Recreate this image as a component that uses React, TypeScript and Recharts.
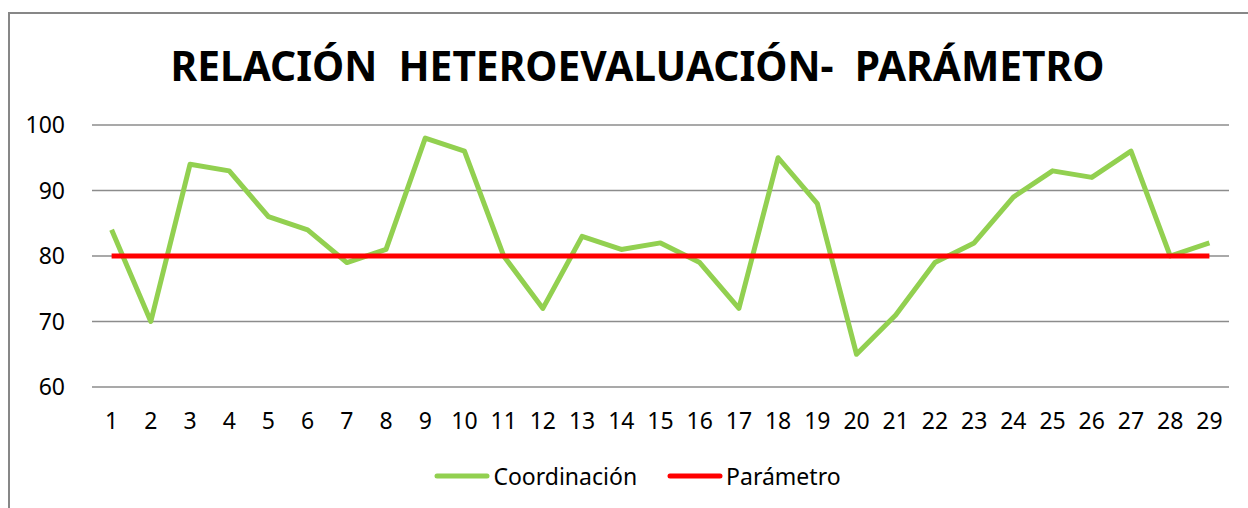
import { CartesianGrid, Legend, Line, LineChart, XAxis, YAxis } from 'recharts'

// eje X: evaluaciones 1..29
const categorias = [
  '1', '2', '3', '4', '5', '6', '7', '8', '9', '10', '11', '12', '13', '14', '15',
  '16', '17', '18', '19', '20', '21', '22', '23', '24', '25', '26', '27', '28', '29',
]
const coordinacion = [
  84, 70, 94, 93, 86, 84, 79, 81, 98, 96, 80, 72, 83, 81, 82,
  79, 72, 95, 88, 65, 71, 79, 82, 89, 93, 92, 96, 80, 82,
]
const parametro = categorias.map(() => 80)
const yTicks = [60, 70, 80, 90, 100]

const data = categorias.map((c, i) => ({ cat: c, coordinacion: coordinacion[i], parametro: parametro[i] }))

const FONT = '"Noto Sans", sans-serif'

function LegendRow({ payload }: any) {
  return (
    <div style={{ display: 'flex', justifyContent: 'center', gap: 30, fontFamily: FONT, fontSize: 23, lineHeight: '30px', color: '#000' }}>
      {payload?.map((p: any) => (
        <div key={p.value} style={{ display: 'flex', alignItems: 'center' }}>
          <svg width={56} height={10} style={{ marginRight: 3 }}>
            <line x1={3} y1={5} x2={53} y2={5} stroke={p.color} strokeWidth={5} strokeLinecap="round" />
          </svg>
          <span>{p.value}</span>
        </div>
      ))}
    </div>
  )
}

export default function App() {
  return (
    <div style={{ position: 'fixed', left: 0, top: 0, width: 1248, height: 508, background: '#fff', overflow: 'hidden' }}>
      <div style={{ position: 'absolute', left: 8, top: 12, width: 1400, height: 600, borderLeft: '2px solid #878787', borderTop: '2px solid #878787' }} />
      <div style={{
        position: 'absolute', left: 0, top: 37, width: 1275, textAlign: 'center',
        fontFamily: FONT, fontWeight: 700, fontSize: 40.7, color: '#000', whiteSpace: 'pre',
      }}>
        {'RELACIÓN  HETEROEVALUACIÓN-  PARÁMETRO'}
      </div>
      <div style={{ position: 'absolute', left: 0, top: 0 }}>
        <LineChart width={1248} height={508} data={data} margin={{ top: 125, right: 19, bottom: 61, left: 0 }}>
          <CartesianGrid vertical={false} stroke="#8c8c8c" strokeWidth={1.5} />
          <XAxis dataKey="cat" axisLine={false} tickLine={false} tickSize={0} tickMargin={26}
            padding={{ left: 19.6, right: 19.6 }} interval={0}
            tick={{ fill: '#000', fontSize: 23, fontFamily: FONT }} />
          <YAxis domain={[60, 100]} ticks={yTicks} width={92} axisLine={false} tickLine={false} tickSize={0} tickMargin={27}
            tick={{ fill: '#000', fontSize: 23, fontFamily: FONT }} />
          <Legend content={<LegendRow />} verticalAlign="bottom"
            wrapperStyle={{ position: 'absolute', top: 461, left: 0, width: 1275 }} />
          <Line dataKey="coordinacion" name="Coordinación" stroke="#92D050" strokeWidth={5} dot={false}
            strokeLinejoin="round" isAnimationActive={false} />
          <Line dataKey="parametro" name="Parámetro" stroke="#FF0000" strokeWidth={5} dot={false}
            isAnimationActive={false} />
        </LineChart>
      </div>
    </div>
  )
}
